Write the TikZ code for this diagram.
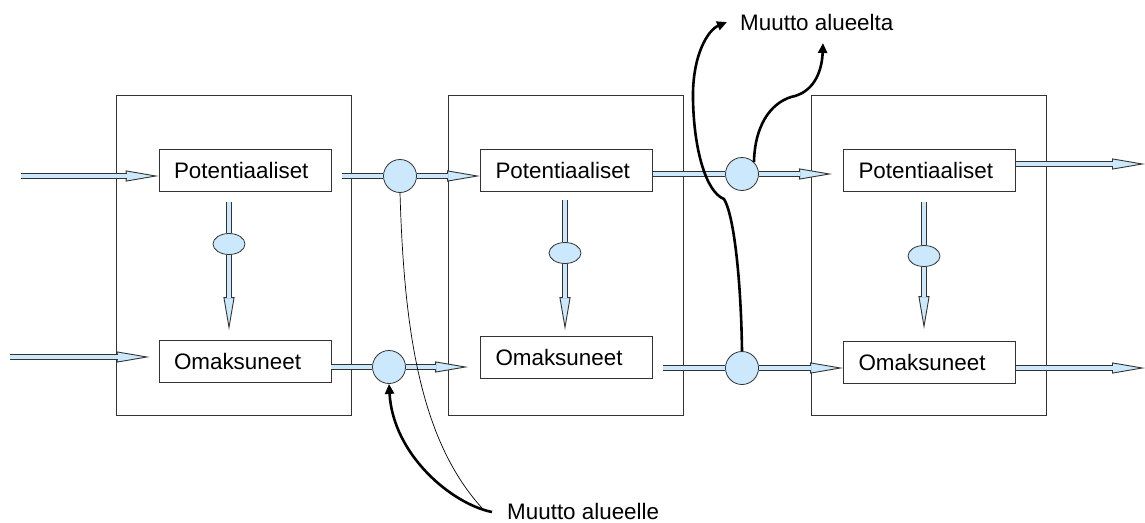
\documentclass[tikz,border=0pt]{standalone}
\usepackage{fontspec}
\setmainfont{Liberation Sans}
\usetikzlibrary{arrows.meta,shapes.geometric}
\definecolor{flowblue}{RGB}{204,232,252}
\begin{document}
\begin{tikzpicture}[x=1pt,y=-1pt,
  stagebox/.style={draw=black!80,line width=0.8pt,minimum width=235pt,minimum height=320pt,inner sep=0pt},
  groupbox/.style={draw=black!80,line width=0.8pt,minimum height=42pt,text width=142pt,inner xsep=15pt,inner ysep=0pt,align=left,font=\fontsize{22.4}{27}\selectfont},
  gate/.style={circle,draw=black!80,line width=0.8pt,fill=flowblue,minimum size=33pt,inner sep=0pt},
  valve/.style={ellipse,draw=black!80,line width=0.8pt,fill=flowblue,minimum width=32pt,minimum height=21pt,inner sep=0pt},
  note/.style={inner sep=0pt,font=\fontsize{22.4}{27}\selectfont},
  shaft/.style={draw=black!80,line width=0.9pt,double=flowblue,double distance=3.4pt},
  flow/.style={draw=black!80,line width=0.9pt,-{Triangle[length=33pt,width=11pt,fill=flowblue]},shorten >=#1,
    postaction={draw=black!80,-,double=flowblue,double distance=3.4pt,shorten >=#1+32pt}},
  flow/.default=0pt,
  migr/.style={draw,line width=2.6pt,-{Triangle[length=10pt,width=9pt]}},
  ]
\useasboundingbox (0,0) rectangle (1145,522);

%stages
\node[stagebox] (s1) at (234,255) {};
\node[stagebox] (s2) at (565.5,255) {};
\node[stagebox] (s3) at (929,255) {};

%groups
\node[groupbox] (p1) at (245,170) {Potentiaaliset};
\node[groupbox] (o1) at (245,361.5) {Omaksuneet};
\node[groupbox] (p2) at (566.5,170) {Potentiaaliset};
\node[groupbox] (o2) at (566.5,357.5) {Omaksuneet};
\node[groupbox] (p3) at (929.5,170) {Potentiaaliset};
\node[groupbox] (o3) at (929.5,362.5) {Omaksuneet};

%gates and valves
\node[gate] (c1) at (400,176) {};
\node[gate] (c2) at (389,367) {};
\node[gate] (c3) at (742,174) {};
\node[gate] (c4) at (742,368) {};
\node[valve] (e1) at (229,244) {};
\node[valve] (e2) at (565,253) {};
\node[valve] (e3) at (924,256) {};

%free ends
\coordinate (inP) at (21,176);
\coordinate (inO) at (10,357);
\coordinate (outP) at (1145,164);
\coordinate (outO) at (1145,368);

%horizontal flows
\draw (inP) edge[flow] (inP -| p1.west);
\draw (inO) edge[flow=9pt] (inO -| o1.west);
\draw (p1.east |- c1) edge[shaft,shorten <=11pt] (c1);
\draw (c1) edge[flow] (c1 -| p2.west);
\draw (o1.east |- c2) edge[shaft] (c2);
\draw (c2) edge[flow=12pt] (c2 -| o2.west);
\draw (p2.east |- c3) edge[shaft] (c3);
\draw (c3) edge[flow=11pt] (c3 -| p3.west);
\draw (o2.east |- c4) edge[shaft,shorten <=10pt] (c4);
\draw (c4) edge[flow] (c4 -| o3.west);
\draw (p3.east |- outP) edge[flow] (outP);
\draw (o3.east |- outO) edge[flow] (outO);

%vertical flows
\draw (e1 |- p1.south) edge[shaft,shorten <=11pt] (e1);
\draw (e1) edge[flow=10pt] (e1 |- o1.north);
\draw (e2 |- p2.south) edge[shaft,shorten <=9pt] (e2);
\draw (e2) edge[flow=6pt] (e2 |- o2.north);
\draw (e3 |- p3.south) edge[shaft,shorten <=11pt] (e3);
\draw (e3) edge[flow=12pt] (e3 |- o3.north);

%migration
\node[note,anchor=west] (lout) at (740,22) {Muutto alueelta};
\node[note,anchor=west] (lin) at (507,511) {Muutto alueelle};
\coordinate (outtip) at (823,43);
\coordinate (intail) at (492,512);
\coordinate (thinend) at (482,508);

\draw[migr] (c4.north) .. controls (741,280) and (734,215) .. (724,199)
  .. controls (706,192) and (694,150) .. (693,100)
  .. controls (692,55) and (708,30) .. ([xshift=-13pt]lout.west);
\draw[migr] (c3.45) .. controls (755,120) and (775,100) .. (795,96)
  .. controls (815,90) and (822,70) .. (outtip);
\draw[migr] (intail) .. controls (452,504) and (393,455) .. (c2.south);
\draw[line width=0.7pt] (c1.south) .. controls (404,330) and (420,440) .. (thinend);

\end{tikzpicture}
\end{document}
